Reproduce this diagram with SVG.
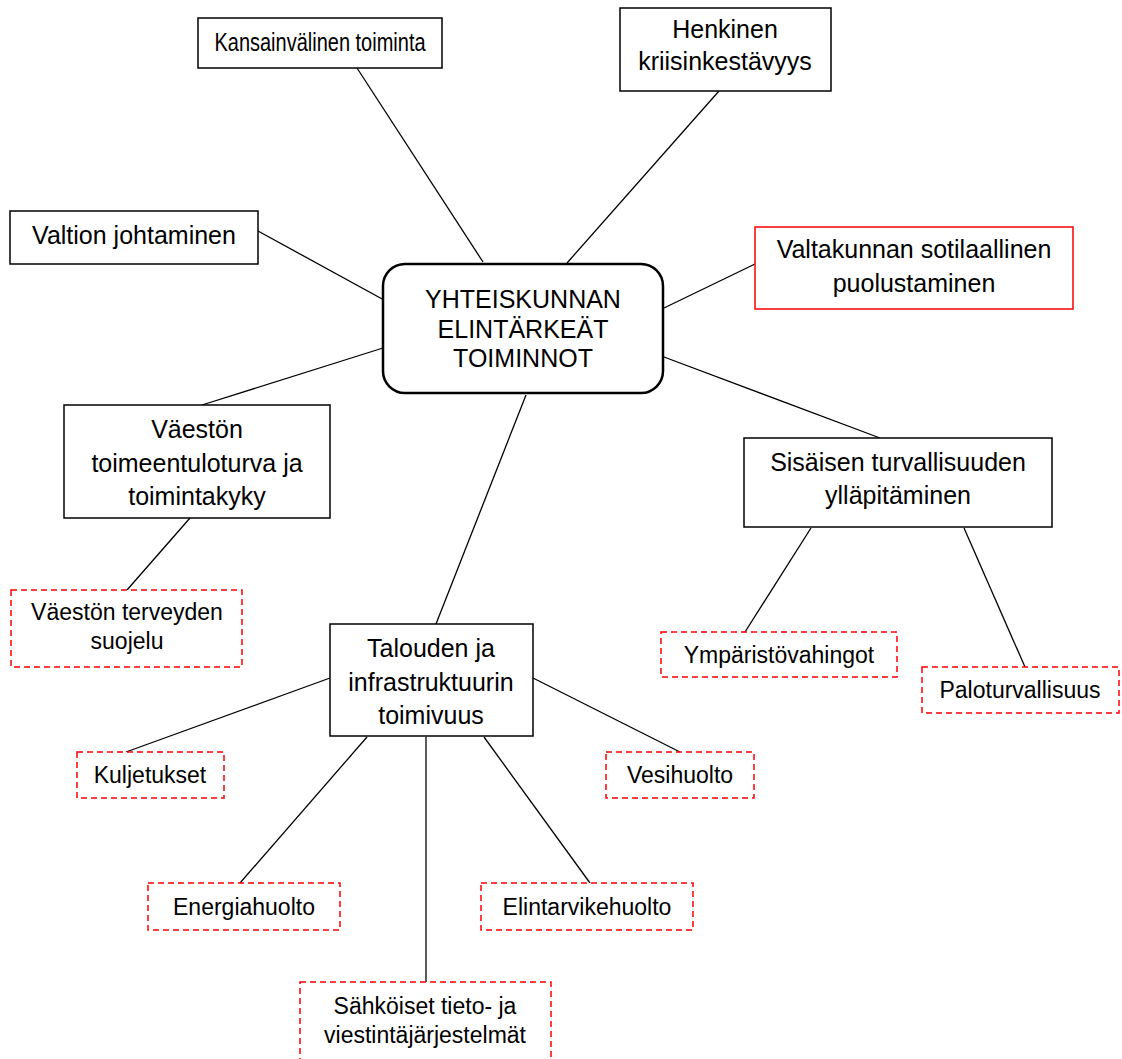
<svg xmlns="http://www.w3.org/2000/svg" width="1122" height="1059" viewBox="0 0 1122 1059">
<style>
  .box { fill: #ffffff; stroke: #000000; stroke-width: 1.5; }
  .red { fill: #ffffff; stroke: #ff0000; stroke-width: 1.5; }
  .dash { fill: #ffffff; stroke: #ff0000; stroke-width: 1.5; stroke-dasharray: 6 4; }
  .center { fill: #ffffff; stroke: #000000; stroke-width: 2.5; }
  .conn line { stroke: #000000; stroke-width: 1.3; }
  text { font-family: "Liberation Sans", Arial, sans-serif; fill: #000000; text-anchor: middle; }
  .t { font-size: 25px; }
  .s { font-size: 23px; }
  .c { font-size: 25px; }
</style>
<rect width="1122" height="1059" fill="#ffffff"/>
<g id="connectors" class="conn">
  <line x1="357" y1="68" x2="483" y2="262"/>
  <line x1="719" y1="91" x2="567" y2="263"/>
  <line x1="258" y1="231" x2="384" y2="300"/>
  <line x1="755" y1="264" x2="664" y2="308"/>
  <line x1="383" y1="348" x2="202" y2="405"/>
  <line x1="664" y1="357" x2="880" y2="438"/>
  <line x1="526" y1="395" x2="436" y2="624"/>
  <line x1="190" y1="518" x2="127" y2="590"/>
  <line x1="811" y1="528" x2="745" y2="632"/>
  <line x1="964" y1="528" x2="1025" y2="667"/>
  <line x1="330" y1="678" x2="126" y2="752"/>
  <line x1="533" y1="678" x2="680" y2="752"/>
  <line x1="367" y1="737" x2="240" y2="883"/>
  <line x1="484" y1="737" x2="590" y2="883"/>
  <line x1="426" y1="737" x2="426" y2="982"/>
</g>
<g id="n-center">
  <rect class="center" x="383" y="264" width="280" height="129" rx="22" ry="22"/>
  <text class="c" x="523" y="308">YHTEISKUNNAN</text>
  <text class="c" x="523" y="338">ELINTÄRKEÄT</text>
  <text class="c" x="523" y="367">TOIMINNOT</text>
</g>
<g id="n-kansainvalinen">
  <rect class="box" x="198" y="18" width="244" height="50"/>
  <text class="t" x="0" y="0" transform="translate(320,51) scale(0.8,1)">Kansainvälinen toiminta</text>
</g>
<g id="n-henkinen">
  <rect class="box" x="620" y="8" width="211" height="83"/>
  <text class="t" x="725" y="38">Henkinen</text>
  <text class="t" x="725" y="70">kriisinkestävyys</text>
</g>
<g id="n-valtion">
  <rect class="box" x="10" y="211" width="248" height="53"/>
  <text class="t" x="134" y="244">Valtion johtaminen</text>
</g>
<g id="n-valtakunnan">
  <rect class="red" x="755" y="227" width="318" height="82"/>
  <text class="t" x="914" y="258">Valtakunnan sotilaallinen</text>
  <text class="t" x="914" y="292">puolustaminen</text>
</g>
<g id="n-vaeston-toimeentulo">
  <rect class="box" x="64" y="405" width="266" height="113"/>
  <text class="t" x="197" y="438">Väestön</text>
  <text class="t" x="197" y="472">toimeentuloturva ja</text>
  <text class="t" x="197" y="505">toimintakyky</text>
</g>
<g id="n-sisaisen">
  <rect class="box" x="744" y="438" width="308" height="89"/>
  <text class="t" x="898" y="471">Sisäisen turvallisuuden</text>
  <text class="t" x="898" y="504">ylläpitäminen</text>
</g>
<g id="n-terveyden">
  <rect class="dash" x="11" y="590" width="231" height="77"/>
  <text class="s" x="127" y="620">Väestön terveyden</text>
  <text class="s" x="127" y="649">suojelu</text>
</g>
<g id="n-talouden">
  <rect class="box" x="330" y="624" width="203" height="112"/>
  <text class="t" x="431" y="657">Talouden ja</text>
  <text class="t" x="431" y="691">infrastruktuurin</text>
  <text class="t" x="431" y="724">toimivuus</text>
</g>
<g id="n-ymparisto">
  <rect class="dash" x="661" y="632" width="236" height="45"/>
  <text class="s" x="779" y="663">Ympäristövahingot</text>
</g>
<g id="n-palo">
  <rect class="dash" x="922" y="667" width="197" height="46"/>
  <text class="s" x="1020" y="698">Paloturvallisuus</text>
</g>
<g id="n-kuljetukset">
  <rect class="dash" x="77" y="752" width="147" height="46"/>
  <text class="s" x="150" y="783">Kuljetukset</text>
</g>
<g id="n-vesihuolto">
  <rect class="dash" x="606" y="752" width="148" height="46"/>
  <text class="s" x="680" y="783">Vesihuolto</text>
</g>
<g id="n-energia">
  <rect class="dash" x="148" y="883" width="192" height="47"/>
  <text class="s" x="244" y="915">Energiahuolto</text>
</g>
<g id="n-elintarvike">
  <rect class="dash" x="481" y="883" width="212" height="47"/>
  <text class="s" x="587" y="915">Elintarvikehuolto</text>
</g>
<g id="n-sahkoiset">
  <rect class="dash" x="300" y="982" width="251" height="80"/>
  <text class="s" x="425" y="1014">Sähköiset tieto- ja</text>
  <text class="s" x="425" y="1043">viestintäjärjestelmät</text>
</g>
</svg>
